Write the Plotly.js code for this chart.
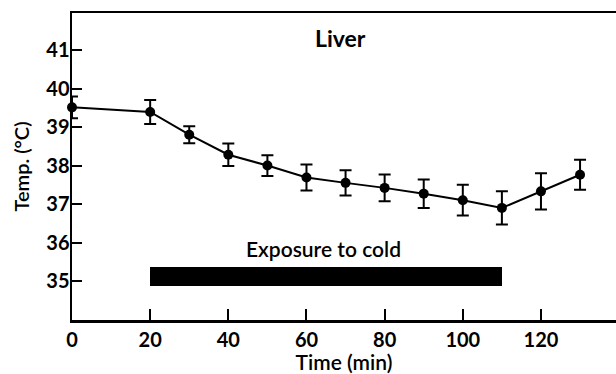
<!DOCTYPE html>
<html>
<head>
<meta charset="utf-8">
<script src="https://cdn.plot.ly/plotly-3.0.1.min.js"></script>
<style>html,body{margin:0;padding:0;background:#fff;}#chart{width:616px;height:374px;}</style>
</head>
<body>
<div id="chart"></div>
<script>
// Data
const timeMin = [0, 20, 30, 40, 50, 60, 70, 80, 90, 100, 110, 120, 130];
const liverTemp = [39.51, 39.39, 38.80, 38.28, 38.00, 37.69, 37.55, 37.42, 37.27, 37.10, 36.90, 37.33, 37.76];
const liverErr = [0.28, 0.31, 0.22, 0.29, 0.27, 0.34, 0.33, 0.35, 0.37, 0.40, 0.43, 0.47, 0.39];
const exposureStart = 20;
const exposureEnd = 110;
const exposureLevel = 35.12;
const xTicks = [0, 20, 40, 60, 80, 100, 120];
const yTicks = [35, 36, 37, 38, 39, 40, 41];

const FONT = 'Lato, "Open Sans", sans-serif';

const traces = [
  {
    type: 'bar',
    orientation: 'h',
    y: [exposureLevel],
    x: [exposureEnd - exposureStart],
    base: [exposureStart],
    width: 0.5,
    marker: {color: '#000', line: {width: 0}},
    hoverinfo: 'skip',
    showlegend: false
  },
  {
    type: 'scatter',
    mode: 'lines+markers',
    x: timeMin,
    y: liverTemp,
    line: {color: '#000', width: 2},
    marker: {color: '#000', size: 10},
    error_y: {type: 'data', array: liverErr, visible: true, color: '#000', thickness: 2, width: 6},
    showlegend: false,
    cliponaxis: false
  }
];

const layout = {
  width: 616,
  height: 374,
  margin: {l: 72, r: 0, t: 13, b: 54},
  paper_bgcolor: '#fff',
  plot_bgcolor: '#fff',
  font: {family: FONT, color: '#000', size: 17},
  showlegend: false,
  xaxis: {
    range: [0, 139.2],
    tickvals: xTicks,
    ticktext: xTicks.map(String),
    ticks: 'inside',
    ticklen: 11,
    tickwidth: 2,
    tickcolor: '#000',
    showline: true,
    linewidth: 2.5,
    linecolor: '#000',
    mirror: true,
    showgrid: false,
    zeroline: false,
    tickfont: {family: FONT, size: 20, weight: 'bold'},
    title: {text: 'Time (min)', font: {family: FONT, size: 21, weight: 600}, standoff: 2}
  },
  yaxis: {
    range: [33.99, 41.96],
    tickvals: yTicks,
    ticktext: yTicks.map(String),
    ticks: 'inside',
    ticklen: 10,
    tickwidth: 2,
    tickcolor: '#000',
    showline: true,
    linewidth: 2.5,
    linecolor: '#000',
    showgrid: false,
    zeroline: false,
    ticklabelstandoff: -4,
    tickfont: {family: FONT, size: 20, weight: 'bold'},
    title: {text: 'Temp. (°C)', font: {family: FONT, size: 20, weight: 600}, standoff: 12}
  },
  bargap: 0,
  annotations: [
    {x: 68.7, y: 41.3, xref: 'x', yref: 'y', text: 'Liver', showarrow: false,
     font: {family: FONT, size: 23, weight: 'bold'}},
    {x: 64.3, y: 35.85, xref: 'x', yref: 'y', text: 'Exposure to cold', showarrow: false,
     font: {family: FONT, size: 21, weight: 600}}
  ]
};

Plotly.newPlot('chart', traces, layout, {displayModeBar: false, staticPlot: true});
</script>
</body>
</html>
